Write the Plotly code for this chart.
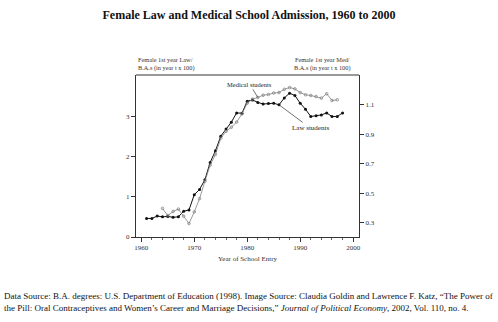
import plotly.graph_objects as go

law_years = list(range(1961, 1999))
law_ratio = [0.46, 0.46, 0.52, 0.50, 0.51, 0.49, 0.50, 0.64, 0.67, 1.05,
             1.18, 1.42, 1.85, 2.14, 2.50, 2.68, 2.85, 3.08, 3.07, 3.37,
             3.40, 3.34, 3.30, 3.31, 3.32, 3.28, 3.45, 3.57, 3.51, 3.32,
             3.17, 2.99, 3.01, 3.03, 3.08, 2.99, 2.99, 3.08]

med_years = list(range(1964, 1998))
med_ratio = [0.398, 0.349, 0.377, 0.393, 0.345, 0.295, 0.374, 0.464, 0.581, 0.691,
             0.764, 0.874, 0.920, 0.948, 0.983, 1.038, 1.111, 1.139, 1.150, 1.165,
             1.170, 1.180, 1.183, 1.205, 1.217, 1.208, 1.183, 1.168, 1.163, 1.156,
             1.145, 1.175, 1.129, 1.134]

x_ticks = [1960, 1970, 1980, 1990, 2000]
left_ticks = [0, 1, 2, 3]
right_ticks = [0.3, 0.5, 0.7, 0.9, 1.1]

SERIF = "Liberation Serif"

fig = go.Figure()
fig.add_trace(go.Scatter(
    x=med_years, y=med_ratio, yaxis="y2", mode="lines+markers",
    line=dict(color="#808080", width=0.8),
    marker=dict(symbol="circle-open", size=2.6, color="#777777", line=dict(width=0.7)),
    showlegend=False))
fig.add_trace(go.Scatter(
    x=law_years, y=law_ratio, mode="lines+markers",
    line=dict(color="#111111", width=1),
    marker=dict(symbol="circle", size=3.0, color="#111111"),
    showlegend=False))

tickfont = dict(family=SERIF, size=7, color="#333333")

fig.update_layout(
    width=498, height=322,
    margin=dict(l=136, r=139, t=75, b=85),
    paper_bgcolor="white", plot_bgcolor="white",
    font=dict(family=SERIF, color="#222222"),
    title=dict(text="<b>Female Law and Medical School Admission, 1960 to 2000</b>",
               x=0.5, xanchor="center", y=1 - 15 / 322, yanchor="middle",
               font=dict(family=SERIF, size=12, color="#111111")),
    xaxis=dict(range=[1959, 2001.1], tickvals=x_ticks, ticks="outside",
               ticklen=4, tickcolor="#333", tickwidth=1,
               minor=dict(dtick=2, tick0=1960, ticks="outside", ticklen=2, tickcolor="#666"),
               showline=True, linecolor="#333", linewidth=1,
               showgrid=False, zeroline=False, tickfont=tickfont,
               title=dict(text="Year of School Entry", standoff=4,
                          font=dict(family=SERIF, size=7, color="#333"))),
    yaxis=dict(range=[0, 4.02], tickvals=left_ticks, ticks="outside",
               ticklen=4, tickcolor="#333", showline=True, linecolor="#333",
               linewidth=1, showgrid=False, zeroline=False, tickfont=tickfont),
    yaxis2=dict(range=[0.204, 1.302], tickvals=right_ticks, overlaying="y",
                side="right", ticks="outside", ticklen=4, tickcolor="#333",
                showline=True, linecolor="#333", linewidth=1, showgrid=False,
                zeroline=False, tickfont=tickfont),
)

fig.add_shape(type="line", xref="paper", yref="paper", x0=0, x1=1, y0=1, y1=1,
              line=dict(color="#999999", width=2))

small = dict(family=SERIF, size=6.3, color="#333333")
fig.add_annotation(xref="paper", yref="paper", x=0, y=1, xanchor="left",
                   yanchor="bottom", yshift=1, align="left", showarrow=False,
                   text="Female 1st year Law/<br>B.A.s (in year t x 100)", font=small)
fig.add_annotation(xref="paper", yref="paper", x=0.838, y=1, xanchor="center",
                   yanchor="bottom", yshift=1, align="center", showarrow=False,
                   text="Female 1st year Med/<br>B.A.s (in year t x 100)", font=small)

fig.add_annotation(x=1982, y=med_ratio[med_years.index(1982)], yref="y2",
                   text="Medical students", showarrow=True, arrowhead=0,
                   arrowwidth=0.7, arrowcolor="#333", ax=-8, ay=-13,
                   font=dict(family=SERIF, size=6.5, color="#222"))
fig.add_annotation(x=1986, y=law_ratio[law_years.index(1986)], yref="y",
                   text="Law students", showarrow=True, arrowhead=0,
                   arrowwidth=0.7, arrowcolor="#333", ax=31, ay=23,
                   font=dict(family=SERIF, size=7, color="#222"))

fig.add_annotation(xref="paper", yref="paper", x=-134 / 223, y=-(302 - 237) / 162,
                   xanchor="left", yanchor="middle", align="left", showarrow=False,
                   text=("Data Source: B.A. degrees: U.S. Department of Education (1998). Image Source: "
                         "Claudia Goldin and Lawrence F. Katz, \u201cThe Power of<br>the Pill: Oral "
                         "Contraceptives and Women\u2019s Career and Marriage Decisions,\u201d "
                         "<i>Journal of Political Economy</i>, 2002, Vol. 110, no. 4."),
                   font=dict(family=SERIF, size=9, color="#111"))

fig.write_html("out.html")
